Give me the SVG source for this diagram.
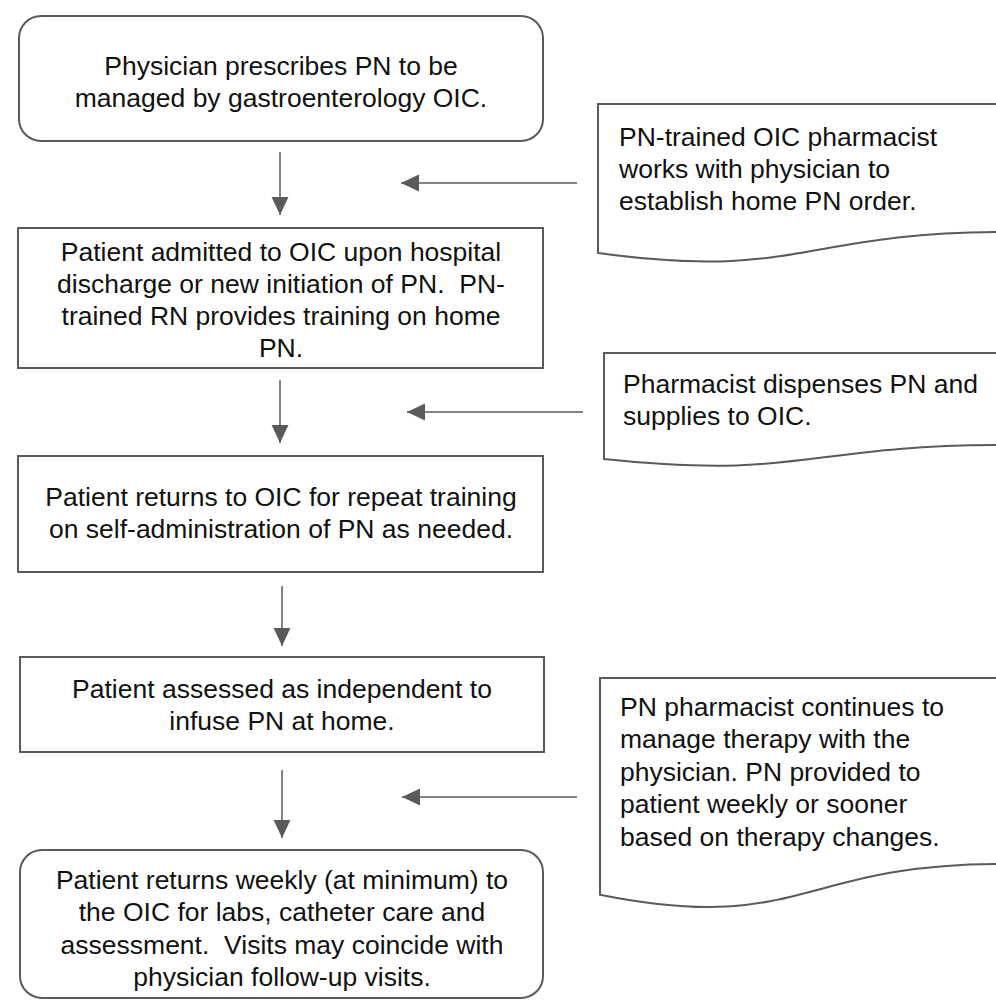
<svg xmlns="http://www.w3.org/2000/svg" width="996" height="1000" viewBox="0 0 996 1000">
<style>
.box{fill:#fff;stroke:#5a5a5a;stroke-width:2}
.doc{fill:#fff;stroke:#5a5a5a;stroke-width:2}
.t{font-family:"Liberation Sans",Arial,sans-serif;font-size:26.5px;fill:#111;white-space:pre}
.c{text-anchor:middle}
.conn{stroke:#5a5a5a;stroke-width:1.5;fill:none;marker-end:url(#ah)}
</style>
<defs>
<marker id="ah" markerUnits="userSpaceOnUse" markerWidth="18" markerHeight="18" viewBox="0 0 16 16" refX="16" refY="8" orient="auto">
<path d="M0,0.5 L16,8 L0,15.5 Z" fill="#5a5a5a"/>
</marker>
</defs>
<rect width="996" height="1000" fill="#fff"/>
<g id="connectors">
<line class="conn" x1="280" y1="152" x2="280" y2="215"/>
<line class="conn" x1="280" y1="380" x2="280" y2="443"/>
<line class="conn" x1="282" y1="586" x2="282" y2="646"/>
<line class="conn" x1="282" y1="770" x2="282" y2="838"/>
<line class="conn" x1="577" y1="183" x2="401" y2="183"/>
<line class="conn" x1="583" y1="412" x2="407" y2="412"/>
<line class="conn" x1="577" y1="797" x2="402" y2="797"/>
</g>
<g id="n1">
<rect class="box" x="19" y="16" width="524" height="125" rx="22"/>
<text class="t c" x="281" y="75">Physician prescribes PN to be</text>
<text class="t c" x="281" y="107">managed by gastroenterology OIC.</text>
</g>
<g id="n2">
<rect class="box" x="18" y="228" width="525" height="140"/>
<text class="t c" x="281" y="261">Patient admitted to OIC upon hospital</text>
<text class="t c" x="281" y="293">discharge or new initiation of PN.  PN-</text>
<text class="t c" x="281" y="325">trained RN provides training on home</text>
<text class="t c" x="281" y="357">PN.</text>
</g>
<g id="n3">
<rect class="box" x="18" y="456" width="525" height="116"/>
<text class="t c" x="281" y="506">Patient returns to OIC for repeat training</text>
<text class="t c" x="281" y="538">on self-administration of PN as needed.</text>
</g>
<g id="n4">
<rect class="box" x="20" y="657" width="524" height="95"/>
<text class="t c" x="282" y="698">Patient assessed as independent to</text>
<text class="t c" x="282" y="730">infuse PN at home.</text>
</g>
<g id="n5">
<rect class="box" x="20" y="850" width="523" height="148" rx="22"/>
<text class="t c" x="282" y="889">Patient returns weekly (at minimum) to</text>
<text class="t c" x="282" y="921">the OIC for labs, catheter care and</text>
<text class="t c" x="282" y="954">assessment.  Visits may coincide with</text>
<text class="t c" x="282" y="986">physician follow-up visits.</text>
</g>
<g id="d1">
<path class="doc" d="M598,104 H1005 V231.9 C801.5,231.9 801.5,280.6 598,253 Z"/>
<text class="t" x="619" y="146">PN-trained OIC pharmacist</text>
<text class="t" x="619" y="178">works with physician to</text>
<text class="t" x="619" y="210">establish home PN order.</text>
</g>
<g id="d2">
<path class="doc" d="M604,353 H1004 V445 C804,445 804,480 604,459 Z"/>
<text class="t" x="623" y="393">Pharmacist dispenses PN and</text>
<text class="t" x="623" y="425">supplies to OIC.</text>
</g>
<g id="d3">
<path class="doc" d="M600,678 H1000 V864 C800,864 800,935 600,894.7 Z"/>
<text class="t" x="620" y="716">PN pharmacist continues to</text>
<text class="t" x="620" y="748">manage therapy with the</text>
<text class="t" x="620" y="781">physician. PN provided to</text>
<text class="t" x="620" y="813">patient weekly or sooner</text>
<text class="t" x="620" y="846">based on therapy changes.</text>
</g>
</svg>
